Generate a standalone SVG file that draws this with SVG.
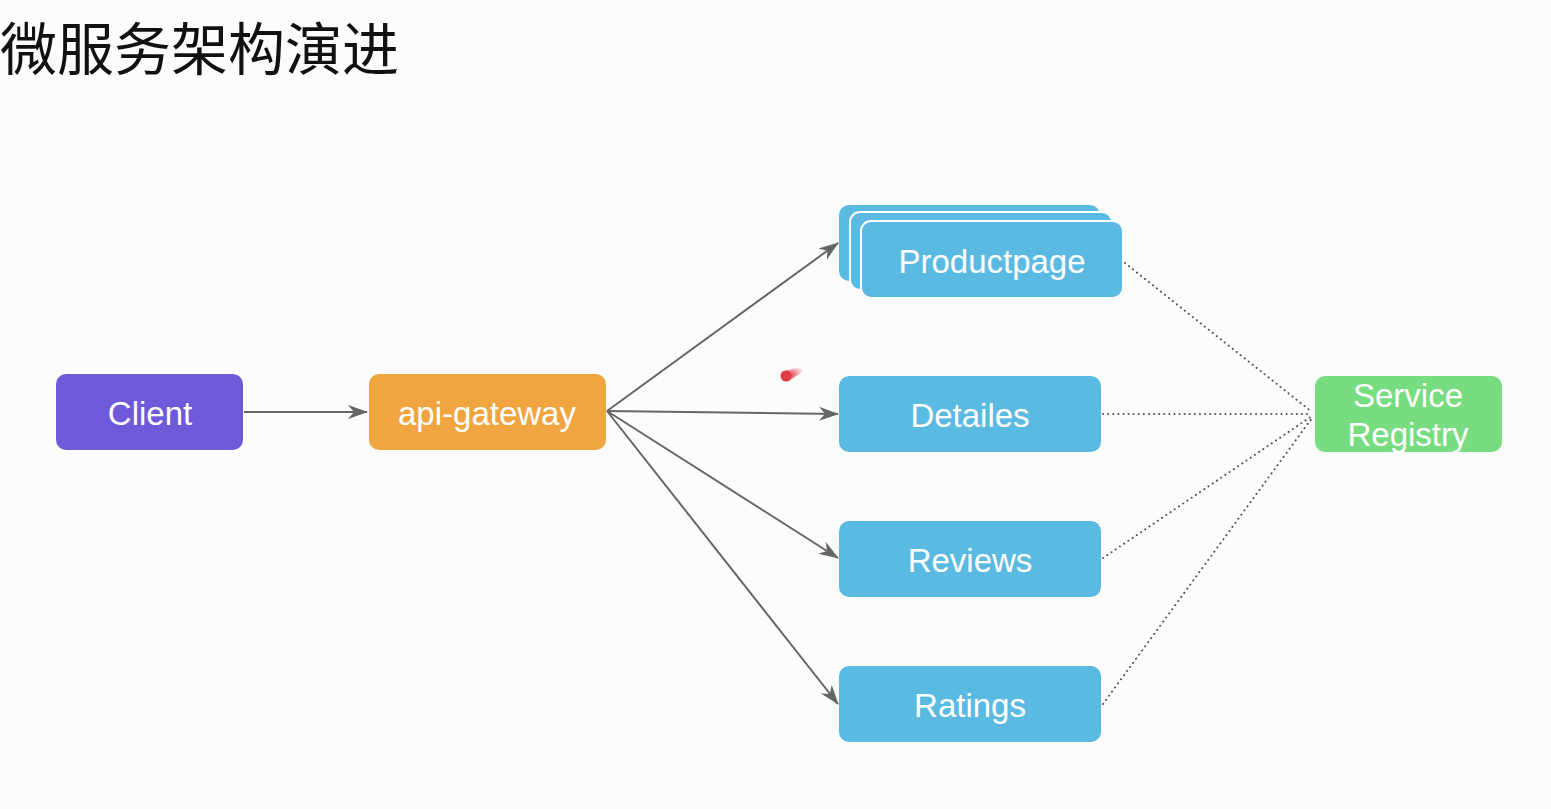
<svg xmlns="http://www.w3.org/2000/svg" width="1551" height="809" viewBox="0 0 1551 809">
<defs>
<style>
.lbl{font-family:"Liberation Sans",Arial,sans-serif;font-size:33px;fill:#ffffff;text-anchor:middle}
.blue{fill:#5bbae2}
.conn{stroke:#666666;stroke-width:2;fill:none}
.dot{stroke:#555555;stroke-width:2;fill:none;stroke-dasharray:0.1 5;stroke-linecap:round}
</style>
<marker id="arr" viewBox="0 0 20 14" refX="19" refY="7" markerWidth="20" markerHeight="14" markerUnits="userSpaceOnUse" orient="auto">
<path d="M0,0 L20,7 L0,14 L6,7 z" fill="#666666"/>
</marker>
<radialGradient id="laser" cx="0.3" cy="0.6" r="0.7">
<stop offset="0" stop-color="#e23a45"/>
<stop offset="1" stop-color="#e23a45" stop-opacity="0"/>
</radialGradient>
</defs>
<rect width="1551" height="809" fill="#fcfcfc"/>
<text x="0" y="70" font-family="'Noto Sans CJK SC',sans-serif" font-size="57" fill="#111111">微服务架构演进</text>

<g id="connectors">
<line class="conn" x1="244" y1="412" x2="367" y2="412" marker-end="url(#arr)"/>
<line class="conn" x1="607" y1="411" x2="838" y2="243" marker-end="url(#arr)"/>
<line class="conn" x1="607" y1="411" x2="838" y2="414" marker-end="url(#arr)"/>
<line class="conn" x1="607" y1="411" x2="838" y2="558" marker-end="url(#arr)"/>
<line class="conn" x1="607" y1="411" x2="838" y2="704" marker-end="url(#arr)"/>
<line class="dot" x1="1125" y1="263" x2="1312" y2="412"/>
<line class="dot" x1="1103" y1="414" x2="1312" y2="414"/>
<line class="dot" x1="1103" y1="558" x2="1312" y2="416"/>
<line class="dot" x1="1103" y1="704" x2="1312" y2="418"/>
</g>

<g id="client">
<rect x="56" y="374" width="187" height="76" rx="10" fill="#6e59d9"/>
<text class="lbl" x="150" y="425">Client</text>
</g>
<g id="api-gateway">
<rect x="369" y="374" width="237" height="76" rx="10" fill="#f0a541"/>
<text class="lbl" x="487" y="425">api-gateway</text>
</g>
<g id="productpage">
<rect class="blue" x="839" y="205" width="261" height="76" rx="10"/>
<rect class="blue" x="850" y="212" width="262" height="78" rx="10" stroke="#ffffff" stroke-width="2"/>
<rect class="blue" x="861" y="221" width="262" height="77" rx="10" stroke="#ffffff" stroke-width="2"/>
<text class="lbl" x="992" y="273">Productpage</text>
</g>
<g id="detailes">
<rect class="blue" x="839" y="376" width="262" height="76" rx="10"/>
<text class="lbl" x="970" y="427">Detailes</text>
</g>
<g id="reviews">
<rect class="blue" x="839" y="521" width="262" height="76" rx="10"/>
<text class="lbl" x="970" y="572">Reviews</text>
</g>
<g id="ratings">
<rect class="blue" x="839" y="666" width="262" height="76" rx="10"/>
<text class="lbl" x="970" y="717">Ratings</text>
</g>
<g id="service-registry">
<rect x="1315" y="376" width="187" height="76" rx="10" fill="#77dd80"/>
<text class="lbl" x="1408" y="407">Service</text>
<text class="lbl" x="1408" y="446">Registry</text>
</g>
<g id="pointer">
<path d="M781,372 L803,366 L806,369 L789,381 z" fill="url(#laser)"/>
<circle cx="786" cy="376" r="5.5" fill="#e23a45"/>
</g>
</svg>
